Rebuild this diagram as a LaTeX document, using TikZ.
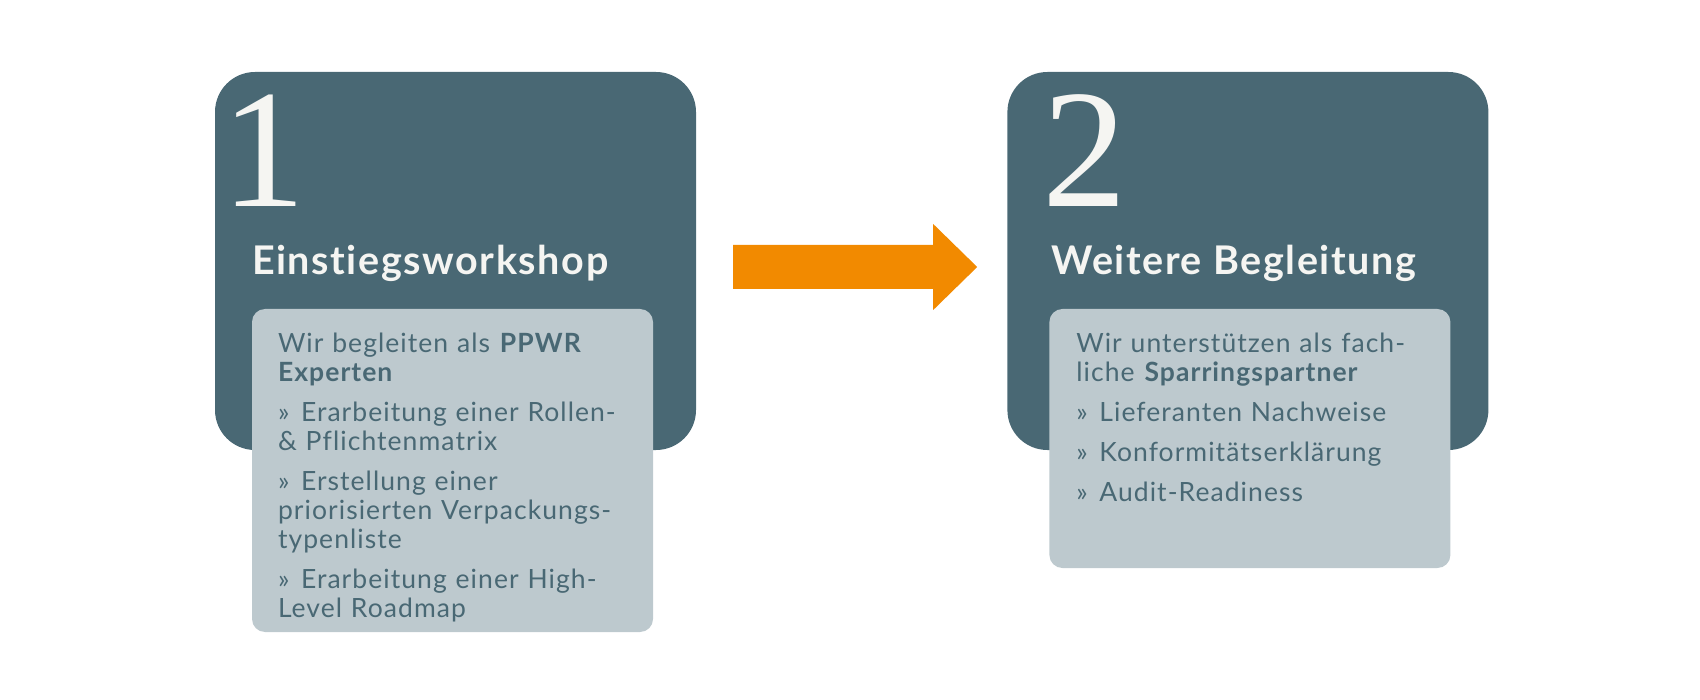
\documentclass[tikz,border=0pt]{standalone}
\usepackage{fontspec}
\setmainfont[Ligatures={TeX,NoCommon}]{Lato}
\newfontfamily\ziffer{Liberation Serif}
\usepackage{xcolor}
\usepackage{tikz}
\usetikzlibrary{positioning}
\definecolor{schiefer}{RGB}{73,104,116}
\definecolor{nebel}{RGB}{189,201,206}
\definecolor{kreide}{RGB}{245,245,242}
\definecolor{signal}{RGB}{242,138,0}
\newfontfamily\weit[Ligatures={TeX,NoCommon},LetterSpace=4]{Lato}
\newcommand{\punkt}[1]{\par\vspace{11pt}\hangindent=23pt\hangafter=1\noindent\makebox[23pt][l]{»}#1}

\begin{document}
\begin{tikzpicture}[
    x=1pt,
    y=-1pt,
    stage/.style={
      rectangle,
      fill=schiefer,
      rounded corners=40pt,
      minimum width=481pt,
      minimum height=378pt,
      inner sep=0pt
    },
    panel/.style={
      rectangle,
      fill=nebel,
      rounded corners=13pt,
      minimum width=401pt,
      inner sep=0pt,
      anchor=north west
    },
    number/.style={anchor=base west, inner sep=0pt, text=kreide, font=\ziffer\fontsize{169}{169}\selectfont},
    headline/.style={anchor=base west, inner sep=0pt, text=kreide, font=\weit\bfseries\fontsize{39.5}{42}\selectfont},
    body/.style={anchor=base west, inner sep=0pt, text=schiefer, text width=380pt, align=left, font=\weit\fontsize{26.5}{29}\selectfont},
    flow/.style={fill=signal},
]
    \useasboundingbox (0,0) rectangle (1700,700);

    \node [stage] (stage1) at (455.5,261) {};
    \node [stage, right=311pt of stage1] (stage2) {};

    \node [panel, minimum height=323pt] (panel1) at ([shift={(37,237)}]stage1.north west) {};
    \node [panel, minimum height=259pt] (panel2) at ([shift={(42,237)}]stage2.north west) {};

    \node [number] (num1) at ([shift={(6,135)}]stage1.north west) {1};
    \node [number] (num2) at ([shift={(35,135)}]stage2.north west) {2};

    \node [headline] (head1) at ([shift={(37,203)}]stage1.north west) {Einstiegsworkshop};
    \node [headline] (head2) at ([shift={(44,203)}]stage2.north west) {Weitere Begleitung};

    \node [body] (text1) at ([shift={(26,44)}]panel1.north west) {Wir begleiten als \textbf{PPWR}\\\textbf{Experten}
      \punkt{Erarbeitung einer Rollen-\\\& Pflichtenmatrix}
      \punkt{Erstellung einer\\priorisierten Verpackungs-\\typenliste}
      \punkt{Erarbeitung einer High-\\Level Roadmap}};
    \node [body] (text2) at ([shift={(27,44)}]panel2.north west) {Wir unterstützen als fach-\\liche \textbf{Sparringspartner}
      \punkt{Lieferanten Nachweise}
      \punkt{Konformitätserklärung}
      \punkt{Audit-Readiness}};

    % orange arrow between the two stages
    \path [flow] ([shift={(37,-16)}]stage1.east) -- ++(200,0) -- ++(0,-21) -- ++(44,43)
      -- ++(-44,43) -- ++(0,-21) -- ++(-200,0) -- cycle;
\end{tikzpicture}
\end{document}
